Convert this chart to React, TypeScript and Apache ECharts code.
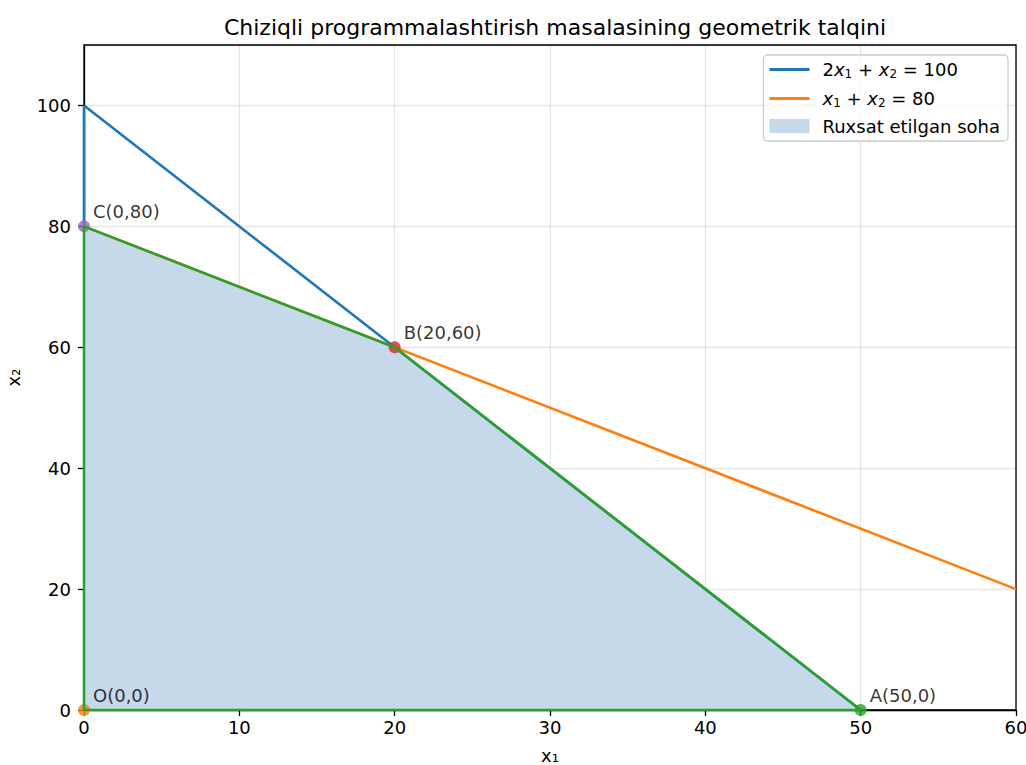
import React, { useEffect, useRef } from "react";
import * as echarts from "echarts";

const line1: [number, number][] = [[0, 100], [50, 0]];
const line2: [number, number][] = [[0, 80], [60, 20]];
const boundary: [number, number][] = [[0, 0], [50, 0], [20, 60], [0, 80], [0, 0]];
const feasible: [number, number][] = [[0, 80], [20, 60], [50, 0]];
const extraEdge: [number, number][] = [[0, 80], [0, 100]];
const points = [
  { name: "O(0,0)", value: [0, 0], color: "#ff7f0e" },
  { name: "A(50,0)", value: [50, 0], color: "#2ca02c" },
  { name: "B(20,60)", value: [20, 60], color: "#d62728" },
  { name: "C(0,80)", value: [0, 80], color: "#9467bd" },
];
const xTicks = [0, 10, 20, 30, 40, 50, 60];
const yTicks = [0, 20, 40, 60, 80, 100];

const FONT = "'DejaVu Sans', sans-serif";
const LINE_ICON = "path://M0,0 L0.01,0 L0,0.01 Z M0,5.6 L40,5.6 L40,8.4 L0,8.4 Z M0,14 L0.01,14 L0,13.99 Z";

export default function App() {
  const ref = useRef<HTMLDivElement>(null);
  useEffect(() => {
    const chart = echarts.init(ref.current!, undefined, { renderer: "svg" });
    const legendNames: Record<string, string> = {
      eq1: "{n|2}{i|x}{s|1}{n| + }{i|x}{s|2}{n| = 100}",
      eq2: "{i|x}{s|1}{n| + }{i|x}{s|2}{n| = 80}",
      "Ruxsat etilgan soha": "{n|Ruxsat etilgan soha}",
    };
    chart.setOption({
      animation: false,
      backgroundColor: "#ffffff",
      textStyle: { fontFamily: FONT },
      title: {
        text: "Chiziqli programmalashtirish masalasining geometrik talqini",
        left: 550,
        textAlign: "center",
        top: 11,
        textStyle: { fontFamily: FONT, fontSize: 22, fontWeight: "normal", color: "#000" },
      },
      grid: {
        left: 84,
        right: 10,
        top: 45,
        bottom: 55,
        outerBoundsMode: "none",
        containLabel: false,
        show: true,
        borderColor: "#000",
        borderWidth: 1.3,
        backgroundColor: "transparent",
      },
      legend: {
        right: 18,
        top: 55,
        orient: "vertical",
        backgroundColor: "rgba(255,255,255,0.8)",
        borderColor: "#cccccc",
        borderWidth: 1.3,
        borderRadius: 4,
        padding: [4, 8, 6, 6],
        itemWidth: 40,
        itemHeight: 14,
        itemGap: 8,
        data: [
          { name: "eq1", icon: LINE_ICON },
          { name: "eq2", icon: LINE_ICON },
          { name: "Ruxsat etilgan soha", icon: "rect" },
        ],
        formatter: (name: string) => legendNames[name] ?? name,
        textStyle: {
          fontFamily: FONT,
          fontSize: 18,
          color: "#000",
          padding: [0, 0, 0, 8],
          rich: {
            n: { fontFamily: FONT, fontSize: 18, color: "#000", lineHeight: 20 },
            i: { fontFamily: FONT, fontSize: 18, fontStyle: "italic", color: "#000", lineHeight: 20 },
            s: { fontFamily: FONT, fontSize: 12, color: "#000", padding: [9, 0, 0, 0], lineHeight: 20 },
          },
        },
      },
      xAxis: {
        type: "value",
        min: 0,
        max: 60,
        interval: 10,
        name: "x₁",
        nameLocation: "middle",
        nameGap: 36,
        nameTextStyle: { fontFamily: FONT, fontSize: 18, color: "#000" },
        axisLine: { show: true, lineStyle: { color: "#000", width: 1.3 } },
        axisTick: { show: true, inside: false, length: 6, lineStyle: { color: "#000", width: 1.3 } },
        axisLabel: {
          fontFamily: FONT,
          fontSize: 18,
          color: "#000",
          margin: 8,
          formatter: (v: number) => (xTicks.includes(v) ? String(v) : ""),
        },
        splitLine: { show: true, lineStyle: { color: "rgba(0,0,0,0.1)", width: 1.3 } },
      },
      yAxis: {
        type: "value",
        min: 0,
        max: 110,
        interval: 20,
        name: "x₂",
        nameLocation: "middle",
        nameGap: 62,
        nameTextStyle: { fontFamily: FONT, fontSize: 18, color: "#000" },
        axisLine: { show: true, lineStyle: { color: "#000", width: 1.3 } },
        axisTick: { show: true, inside: false, length: 6, lineStyle: { color: "#000", width: 1.3 } },
        axisLabel: {
          fontFamily: FONT,
          fontSize: 18,
          color: "#000",
          margin: 13,
          showMaxLabel: false,
          formatter: (v: number) => (yTicks.includes(v) ? String(v) : ""),
        },
        splitLine: { show: true, lineStyle: { color: "rgba(0,0,0,0.1)", width: 1.3 } },
      },
      series: [
        {
          name: "Ruxsat etilgan soha",
          type: "line",
          data: feasible,
          symbol: "none",
          lineStyle: { width: 0 },
          itemStyle: { color: "#c6d9ea" },
          areaStyle: { color: "#c6d9ea", opacity: 1 },
          z: 1,
        },
        {
          name: "eq1",
          type: "line",
          data: line1,
          symbol: "none",
          lineStyle: { color: "#1f77b4", width: 2.6 },
          itemStyle: { color: "#1f77b4" },
          z: 2,
        },
        {
          name: "eq1-edge",
          type: "line",
          data: extraEdge,
          symbol: "none",
          lineStyle: { color: "#1f77b4", width: 2.6 },
          z: 2,
        },
        {
          name: "eq2",
          type: "line",
          data: line2,
          symbol: "none",
          lineStyle: { color: "#ff7f0e", width: 2.6 },
          itemStyle: { color: "#ff7f0e" },
          z: 2,
        },
        {
          name: "boundary",
          type: "line",
          data: boundary,
          symbol: "none",
          lineStyle: { color: "#2ca02c", width: 2.6 },
          z: 3,
        },
        {
          name: "points",
          type: "scatter",
          clip: true,
          symbolSize: 12,
          z: 2,
          data: points.map((p) => ({
            name: p.name,
            value: p.value,
            itemStyle: { color: p.color },
          })),
          label: {
            show: true,
            position: "right",
            distance: 3,
            offset: [0, -15],
            formatter: (p: any) => p.name,
            fontFamily: FONT,
            fontSize: 18,
            color: "#000",
          },
        },
      ],
    });
    return () => chart.dispose();
  }, []);
  return <div ref={ref} style={{ width: 1026, height: 765, position: "absolute", left: 0, top: 0 }} />;
}
